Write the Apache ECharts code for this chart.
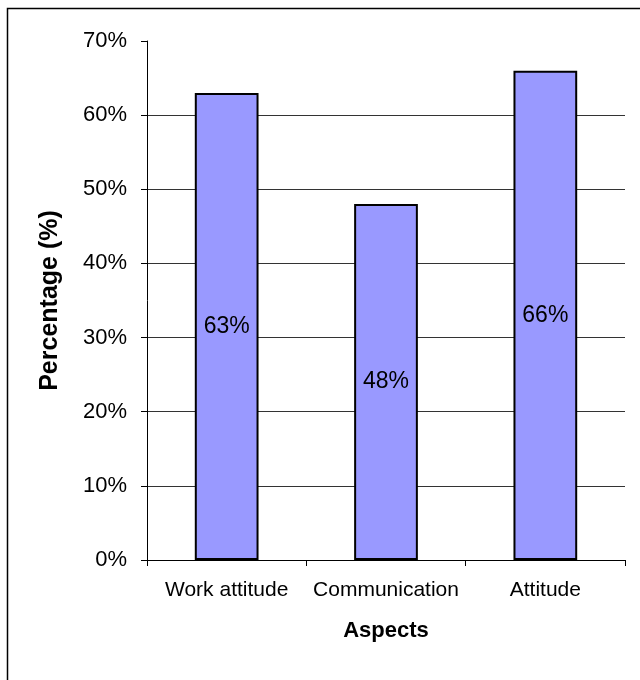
<!DOCTYPE html>
<html>
<head>
<meta charset="utf-8">
<script src="https://cdn.jsdelivr.net/npm/echarts@6/dist/echarts.min.js"></script>
<style>
  html, body { margin: 0; padding: 0; background: #fff; }
  #chart { width: 640px; height: 680px; }
</style>
</head>
<body>
<div id="chart"></div>
<script>
// Share of respondents per aspect (percent)
const aspects = ['Work attitude', 'Communication', 'Attitude'];
const percentages = [63, 48, 66];
const yTicks = { min: 0, max: 70, step: 10 };

const font = 'Liberation Sans, Arial, sans-serif';
const chart = echarts.init(document.getElementById('chart'), null, { renderer: 'canvas' });

chart.setOption({
  backgroundColor: '#ffffff',
  animation: false,
  graphic: [{
    type: 'rect',
    shape: { x: 7.5, y: 8.5, width: 700, height: 700 },
    style: { fill: 'none', stroke: '#000', lineWidth: 1.5 },
    silent: true
  }],
  grid: { left: 147, top: 41, right: 15, bottom: 120 },
  xAxis: {
    type: 'category',
    data: aspects,
    name: 'Aspects',
    nameLocation: 'middle',
    nameGap: 60,
    nameTextStyle: { fontFamily: font, fontSize: 22, fontWeight: 'bold', color: '#000' },
    axisLine: { lineStyle: { color: '#000', width: 1 } },
    axisTick: { show: true, interval: 0, length: 6, lineStyle: { color: '#000' } },
    axisLabel: { fontFamily: font, fontSize: 21, color: '#000', margin: 20, interval: 0 },
    splitLine: { show: false }
  },
  yAxis: {
    type: 'value',
    min: yTicks.min,
    max: yTicks.max,
    interval: yTicks.step,
    name: 'Percentage (%)',
    nameLocation: 'middle',
    nameRotate: 90,
    nameGap: 84,
    nameTextStyle: { fontFamily: font, fontSize: 25, fontWeight: 'bold', color: '#000' },
    axisLine: { show: true, lineStyle: { color: '#000', width: 1 } },
    axisTick: { show: true, length: 6, lineStyle: { color: '#000' } },
    axisLabel: { fontFamily: font, fontSize: 22, color: '#000', margin: 20, formatter: '{value}%' },
    splitLine: { show: true, showMinLine: false, showMaxLine: false, lineStyle: { color: '#333', width: 1 } }
  },
  series: [{
    type: 'bar',
    data: percentages,
    barWidth: '40%',
    itemStyle: { color: '#9999ff', borderColor: '#000', borderWidth: 2 },
    label: {
      show: true,
      position: 'inside',
      formatter: '{c}%',
      fontFamily: font,
      fontSize: 23,
      color: '#000'
    }
  }]
});
</script>
</body>
</html>
